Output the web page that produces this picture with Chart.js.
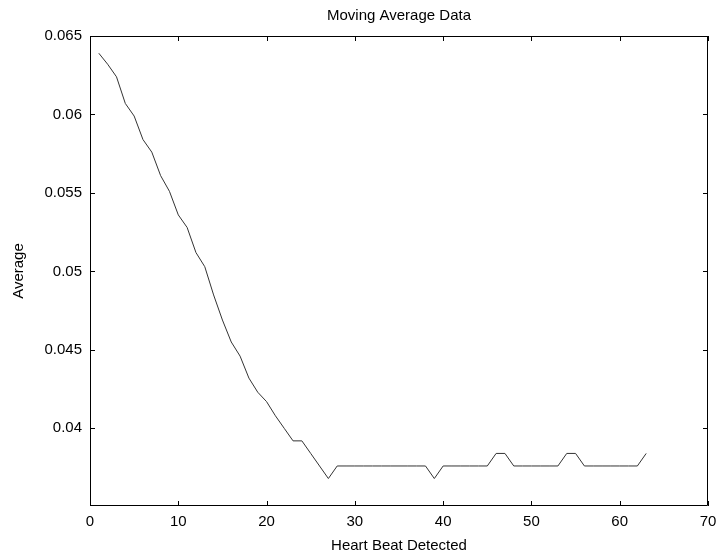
<!DOCTYPE html>
<html>
<head>
<meta charset="utf-8">
<script src="https://cdn.jsdelivr.net/npm/chart.js@4/dist/chart.umd.min.js"></script>
<style>
  html, body { margin: 0; padding: 0; background: #fff; }
  #wrap { width: 724px; height: 559px; }
</style>
</head>
<body>
<div id="wrap"><canvas id="c" width="724" height="559"></canvas></div>
<script>
// Heart beat index (x) and moving average value (y)
const beats = [
  1, 2, 3, 4, 5, 6, 7, 8, 9, 10,
  11, 12, 13, 14, 15, 16, 17, 18, 19, 20,
  21, 22, 23, 24, 25, 26, 27, 28, 29, 30,
  31, 32, 33, 34, 35, 36, 37, 38, 39, 40,
  41, 42, 43, 44, 45, 46, 47, 48, 49, 50,
  51, 52, 53, 54, 55, 56, 57, 58, 59, 60,
  61, 62, 63
];
const averages = [
  0.0639, 0.0632, 0.0624, 0.0607, 0.0599, 0.0584, 0.0576, 0.0561, 0.0551, 0.0536,
  0.0528, 0.0512, 0.0503, 0.0485, 0.0469, 0.0455, 0.0446, 0.0432, 0.0423, 0.0417,
  0.0408, 0.0400, 0.0392, 0.0392, 0.0384, 0.0376, 0.0368, 0.0376, 0.0376, 0.0376,
  0.0376, 0.0376, 0.0376, 0.0376, 0.0376, 0.0376, 0.0376, 0.0376, 0.0368, 0.0376,
  0.0376, 0.0376, 0.0376, 0.0376, 0.0376, 0.0384, 0.0384, 0.0376, 0.0376, 0.0376,
  0.0376, 0.0376, 0.0376, 0.0384, 0.0384, 0.0376, 0.0376, 0.0376, 0.0376, 0.0376,
  0.0376, 0.0376, 0.0384
];
const xTicks = [0, 10, 20, 30, 40, 50, 60, 70];
const yTicks = [0.04, 0.045, 0.05, 0.055, 0.06, 0.065];

const FONT = "'Liberation Sans', Arial, Helvetica, sans-serif";

// MATLAB-style box with inward tick marks on all four sides
const boxTicks = {
  id: 'boxTicks',
  afterDraw(chart) {
    const { ctx, chartArea: a, scales } = chart;
    const len = 5;
    ctx.save();
    ctx.strokeStyle = '#000';
    ctx.lineWidth = 1;
    ctx.beginPath();
    ctx.rect(a.left + 0.5, a.top + 0.5, a.right - a.left - 1, a.bottom - a.top - 1);
    xTicks.forEach(v => {
      const x = Math.round(scales.x.getPixelForValue(v)) + 0.5;
      ctx.moveTo(x, a.bottom); ctx.lineTo(x, a.bottom - len);
      ctx.moveTo(x, a.top); ctx.lineTo(x, a.top + len);
    });
    yTicks.forEach(v => {
      const y = Math.round(scales.y.getPixelForValue(v)) + 0.5;
      ctx.moveTo(a.left, y); ctx.lineTo(a.left + len, y);
      ctx.moveTo(a.right, y); ctx.lineTo(a.right - len, y);
    });
    ctx.stroke();
    ctx.restore();
  }
};

new Chart(document.getElementById('c'), {
  type: 'line',
  data: {
    datasets: [{
      data: beats.map((b, i) => ({ x: b, y: averages[i] })),
      borderColor: '#333',
      borderWidth: 1,
      pointRadius: 0,
      tension: 0,
      fill: false
    }]
  },
  options: {
    responsive: false,
    animation: false,
    layout: { padding: { top: 0, right: 16, bottom: 0, left: 0 } },
    plugins: {
      legend: { display: false },
      tooltip: { enabled: false },
      title: {
        display: true,
        text: 'Moving Average Data',
        fullSize: false,
        color: '#000',
        font: { family: FONT, size: 15, weight: 'normal' },
        padding: { top: 7, bottom: 11 }
      }
    },
    scales: {
      x: {
        type: 'linear',
        min: 0,
        max: 70,
        afterBuildTicks(s) { s.ticks = xTicks.map(v => ({ value: v })); },
        afterFit(s) { s.height = 53; },
        grid: { display: false, drawTicks: false },
        border: { display: false },
        ticks: {
          color: '#000',
          padding: 7,
          maxRotation: 0,
          font: { family: FONT, size: 15 },
          callback: v => String(v)
        },
        title: {
          display: true,
          text: 'Heart Beat Detected',
          color: '#000',
          font: { family: FONT, size: 15 },
          padding: { top: 0, bottom: 4 }
        }
      },
      y: {
        type: 'linear',
        min: 0.03505,
        max: 0.065,
        afterBuildTicks(s) { s.ticks = yTicks.map(v => ({ value: v })); },
        afterFit(s) { s.width = 90; },
        grid: { display: false, drawTicks: false },
        border: { display: false },
        ticks: {
          color: '#000',
          padding: 8,
          font: { family: FONT, size: 15 },
          callback: v => String(v)
        },
        title: {
          display: true,
          text: 'Average',
          color: '#000',
          font: { family: FONT, size: 15 },
          padding: { top: 10, bottom: 0 }
        }
      }
    }
  },
  plugins: [boxTicks]
});
</script>
</body>
</html>
